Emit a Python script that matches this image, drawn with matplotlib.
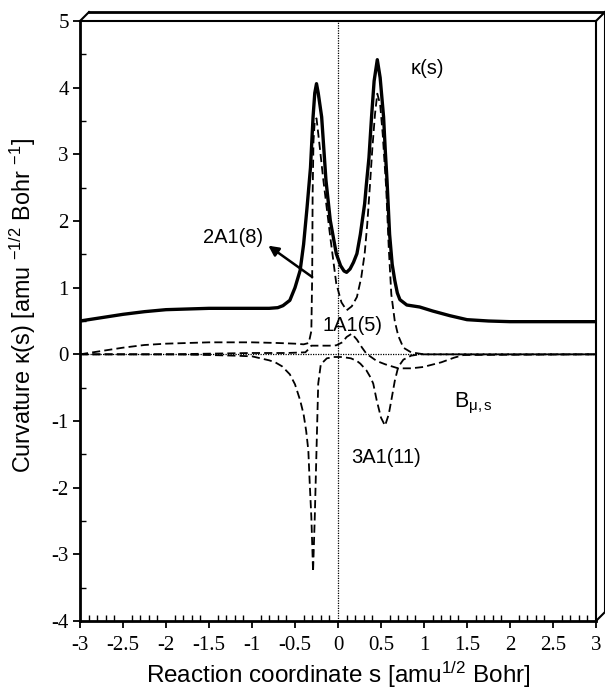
import matplotlib
matplotlib.use("Agg")
import matplotlib.pyplot as plt
from matplotlib.lines import Line2D
from matplotlib.ticker import MultipleLocator, FixedLocator

plt.rcParams['font.family'] = ['Liberation Sans', 'DejaVu Sans']
plt.rcParams['mathtext.fontset'] = 'custom'
plt.rcParams['mathtext.rm'] = 'Liberation Sans'
plt.rcParams['mathtext.it'] = 'Liberation Sans:italic'
plt.rcParams['mathtext.sf'] = 'Liberation Sans'

# ---- data ----
kappa_s = [-3.0, -2.75, -2.5, -2.25, -2.0, -1.75, -1.5, -1.0, -0.8, -0.7, -0.64, -0.56,
           -0.50, -0.44, -0.40, -0.36, -0.32, -0.29, -0.27, -0.25, -0.23, -0.19, -0.14,
           -0.09, -0.02, 0.03, 0.07, 0.10, 0.14, 0.18, 0.22, 0.26, 0.31, 0.33, 0.36, 0.39,
           0.42, 0.457, 0.49, 0.53, 0.55, 0.57, 0.60, 0.63, 0.66, 0.69, 0.72, 0.80, 0.95,
           1.1, 1.3, 1.5, 1.75, 2.0, 2.5, 3.0]
kappa_v = [0.50, 0.55, 0.60, 0.64, 0.67, 0.68, 0.69, 0.69, 0.69, 0.70, 0.73, 0.81,
           1.00, 1.26, 1.65, 2.20, 2.80, 3.56, 3.92, 4.06, 3.92, 3.56, 2.61,
           2.01, 1.51, 1.33, 1.25, 1.23, 1.28, 1.38, 1.51, 1.80, 2.26, 2.55, 2.95, 3.56,
           4.10, 4.42, 4.15, 3.56, 3.05, 2.61, 1.80, 1.35, 1.11, 0.92, 0.82, 0.74, 0.71,
           0.65, 0.58, 0.52, 0.50, 0.49, 0.49, 0.49]

a2_s = [-3.0, -2.75, -2.5, -2.25, -2.0, -1.5, -1.0, -0.7, -0.5, -0.4, -0.34, -0.31,
        -0.30, -0.295, -0.285, -0.27, -0.25, -0.22, -0.17, -0.09, -0.02, 0.04, 0.10,
        0.16, 0.22, 0.27, 0.31, 0.34, 0.37, 0.40, 0.43, 0.457, 0.49, 0.52, 0.56, 0.59,
        0.62, 0.66, 0.70, 0.76, 0.85, 1.0, 3.0]
a2_v = [0.00, 0.05, 0.10, 0.14, 0.16, 0.18, 0.18, 0.17, 0.16, 0.15, 0.17, 0.35,
        1.20, 2.40, 3.20, 3.50, 3.54, 3.20, 2.61, 1.76, 1.06, 0.78, 0.66,
        0.72, 0.86, 1.15, 1.51, 1.95, 2.51, 3.10, 3.60, 3.91, 3.75, 3.30, 2.50, 1.60,
        0.90, 0.50, 0.28, 0.10, 0.03, 0.00, 0.00]

a1_s = [-3.0, -2.5, -2.0, -1.5, -1.0, -0.6, -0.38, -0.34, -0.31, -0.2, -0.1, -0.02,
        0.05, 0.10, 0.16, 0.22, 0.28, 0.33, 0.45, 0.55, 0.70, 0.85, 0.99, 1.2, 1.35,
        1.46, 3.0]
a1_v = [0.00, 0.00, 0.00, 0.01, 0.02, 0.02, 0.03, 0.08, 0.13, 0.13, 0.13, 0.135,
        0.18, 0.26, 0.31, 0.22, 0.10, 0.01, -0.10, -0.15, -0.21, -0.21, -0.19, -0.12, -0.05,
        -0.01, 0.00]

a3_s = [-3.0, -2.0, -1.5, -1.2, -1.0, -0.9, -0.8, -0.73, -0.65, -0.56, -0.50, -0.44,
        -0.40, -0.37, -0.345, -0.33, -0.31, -0.29, -0.27, -0.25, -0.23, -0.20, -0.13,
        -0.05, 0.05, 0.15, 0.22, 0.26, 0.33, 0.38, 0.41, 0.45, 0.50, 0.547, 0.59, 0.62,
        0.66, 0.70, 0.76, 0.85, 0.95, 3.0]
a3_v = [0.00, 0.00, -0.01, -0.02, -0.03, -0.06, -0.09, -0.12, -0.18, -0.30, -0.45, -0.69,
        -0.90, -1.15, -1.44, -1.90, -2.44, -3.26, -2.44, -1.44, -0.44, -0.15, -0.06,
        -0.04, -0.04, -0.06, -0.10, -0.14, -0.24, -0.35, -0.44, -0.69, -0.95, -1.07, -0.90, -0.69,
        -0.40, -0.19, -0.08, -0.02, 0.00, 0.00]

x_ticks = [-3, -2.5, -2, -1.5, -1, -0.5, 0, 0.5, 1, 1.5, 2, 2.5, 3]
x_ticklabels = ['-3', '-2.5', '-2', '-1.5', '-1', '-0.5', '0', '0.5', '1', '1.5', '2', '2.5', '3']
y_ticks = [-4, -3, -2, -1, 0, 1, 2, 3, 4, 5]
y_ticklabels = ['-4', '-3', '-2', '-1', '0', '1', '2', '3', '4', '5']

# ---- figure ----
fig = plt.figure(figsize=(6.05, 6.95), dpi=100)
ax = fig.add_axes([80/605, 74/695, 516/605, 600/695])

ax.axhline(0, color='black', lw=0.9, ls=(0, (1, 1)), zorder=1)
ax.axvline(0, color='black', lw=0.9, ls=(0, (1, 1)), zorder=1)

dash = (0, (4.5, 2.3))
ax.plot(a2_s, a2_v, color='black', lw=1.3, ls=dash, zorder=2)
ax.plot(a1_s, a1_v, color='black', lw=1.3, ls=dash, zorder=2)
ax.plot(a3_s, a3_v, color='black', lw=1.3, ls=dash, zorder=2)
ax.plot(kappa_s, kappa_v, color='black', lw=2.4, solid_capstyle='round', zorder=3)

ax.set_xlim(-3, 3)
ax.set_ylim(-4, 5)

ax.xaxis.set_major_locator(FixedLocator(x_ticks))
ax.set_xticklabels(x_ticklabels)
ax.yaxis.set_major_locator(FixedLocator(y_ticks))
ax.set_yticklabels(y_ticklabels)
ax.xaxis.set_minor_locator(MultipleLocator(0.1))
ax.yaxis.set_minor_locator(MultipleLocator(0.5))

ax.tick_params(axis='both', which='major', direction='out', length=5, width=1.3,
               labelsize=15, top=False, right=False)
ax.tick_params(axis='both', which='minor', direction='in', length=4, width=1.0,
               top=False, right=False)
for lab in ax.get_xticklabels() + ax.get_yticklabels():
    lab.set_fontfamily(['Liberation Serif', 'DejaVu Serif'])
ax.tick_params(axis='x', pad=6)
ax.tick_params(axis='y', pad=3)

ax.spines['left'].set_linewidth(2.0)
ax.spines['bottom'].set_linewidth(2.0)
ax.spines['top'].set_linewidth(1.5)
ax.spines['right'].set_linewidth(1.5)

# offset 3D-style frame lines
dx, dy = 9/516, 9/600
frame_kw = dict(transform=ax.transAxes, color='black', clip_on=False)
ax.add_line(Line2D([0, dx], [1, 1 + dy], lw=1.5, **frame_kw))
ax.add_line(Line2D([dx, 1 + dx], [1 + dy, 1 + dy], lw=2.0, **frame_kw))
ax.add_line(Line2D([1, 1 + dx], [1, 1 + dy], lw=1.5, **frame_kw))
ax.add_line(Line2D([1 + dx, 1 + dx], [1 + dy, dy], lw=1.5, **frame_kw))
ax.add_line(Line2D([1, 1 + dx], [0, dy], lw=1.5, **frame_kw))

ax.set_xlabel(r'Reaction coordinate s [amu$^{1/2}$ Bohr]', fontsize=17.5, labelpad=3)
ax.set_ylabel(r'Curvature κ(s) [amu $^{-1/2}$ Bohr $^{-1}$]', fontsize=16.8)
ax.yaxis.set_label_coords(-0.082, 0.525)

fs = 14.5
ax.text(1.04, 4.29, 'κ(s)', fontsize=fs, ha='center', va='center')
ax.text(-1.22, 1.76, '2A1(8)', fontsize=fs, ha='center', va='center')
ax.text(0.17, 0.44, '1A1(5)', fontsize=fs, ha='center', va='center')
ax.text(1.57, -0.74, r'$\mathregular{B_{μ,s}}$', fontsize=fs + 1, ha='center', va='center')
ax.text(0.56, -1.55, '3A1(11)', fontsize=fs, ha='center', va='center')
ax.annotate('', xy=(-0.81, 1.63), xytext=(-0.30, 1.16),
            arrowprops=dict(arrowstyle='-|>', lw=1.8, color='black', mutation_scale=15,
                            shrinkA=0, shrinkB=0))

fig.savefig('out.png', dpi=100)
